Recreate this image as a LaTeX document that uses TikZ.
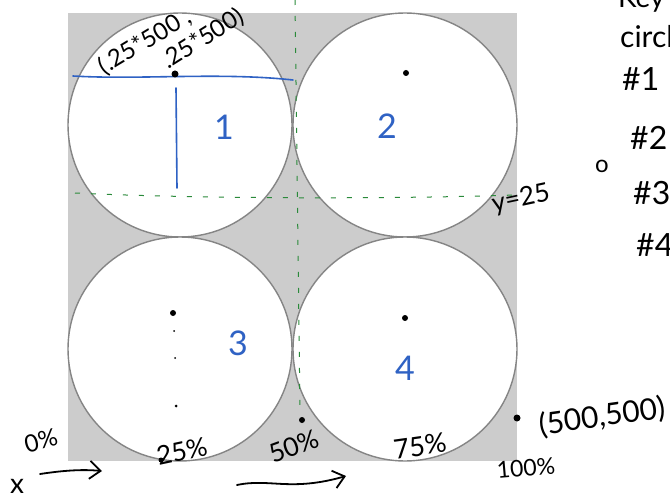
\documentclass[tikz,border=0pt]{standalone}
\usepackage{fontspec}
\setmainfont{Lato}
\usetikzlibrary{arrows.meta}
\definecolor{bg}{HTML}{CCCCCC}
\definecolor{ring}{HTML}{858585}
\definecolor{pen}{HTML}{2F62C4}
\definecolor{guide}{HTML}{2A8A3A}
\tikzset{
  ringnode/.style={circle, draw=ring, line width=1.4pt, fill=white, minimum size=224pt, inner sep=0pt},
  dotnode/.style={circle, fill=black, inner sep=0pt, minimum size=#1},
  hand/.style={inner sep=0pt, font=\fontsize{#1}{#1}\selectfont},
  num/.style={inner sep=0pt, text=pen, font=\fontsize{34}{34}\selectfont},
  bluepen/.style={draw=pen, line width=1.6pt, line cap=round},
  greenguide/.style={draw=guide, line width=1pt, dash pattern=on 5pt off 11pt},
  blackpen/.style={draw=black, line width=1.8pt, line cap=round, -{Straight Barb[length=11pt,width=18pt,line width=1.8pt]}}
}
\begin{document}
\begin{tikzpicture}[x=1pt,y=-1pt]
\useasboundingbox (0,0) rectangle (670,500);
\clip (0,0) rectangle (670,500);
\fill[bg] (68,13) rectangle (517,461);
% circles
\node[ringnode] (c1) at (180,125) {};
\node[ringnode] (c2) at (405,125) {};
\node[ringnode] (c3) at (180,349) {};
\node[ringnode] (c4) at (405,349) {};
% green guides
\coordinate (gv1) at (295,0);
\coordinate (gv2) at (300,412);
\draw[greenguide] (gv1) -- (gv2);
\coordinate (gh1) at (75,193);
\coordinate (gh2) at (515,195);
\draw[greenguide] (gh1) .. controls (200,199) and (400,199) .. (gh2);
% blue strokes
\coordinate (bh1) at (73,76);
\coordinate (bh2) at (293,80);
\draw[bluepen] (bh1) .. controls (140,80) and (220,72) .. (bh2);
\coordinate (bv1) at (176,88);
\coordinate (bv2) at (177,188);
\draw[bluepen] (bv1) -- (bv2);
% dots
\node[dotnode=7pt] (d1) at (175,74) {};
\node[dotnode=6pt] (d2) at (406,73) {};
\node[dotnode=6pt] (d3) at (173,313) {};
\node[dotnode=2pt] (d3a) at (174,331) {};
\node[dotnode=2pt] (d3b) at (175,358) {};
\node[dotnode=3pt] (d3c) at (176,406) {};
\node[dotnode=6pt] (d4) at (405,318) {};
\node[dotnode=6pt] (d5) at (302,420) {};
\node[dotnode=7pt] (d6) at (517,418) {};
\node[dotnode=5pt] (d7) at (161,460) {};
% blue numbers
\node[num] (n1) at (224,127) {1};
\node[num] (n2) at (387,126) {2};
\node[num] (n3) at (238,343) {3};
\node[num] (n4) at (405,368) {4};
% coordinate notes
\node[hand=24, rotate=31] (p1) at (145,42) {(.25*500 ,};
\node[hand=24, rotate=32] (p2) at (203,39) {.25*500)};
\node[hand=26, rotate=12] (y25) at (521,199) {y=25};
% axis labels
\node[hand=24, rotate=15] (l0) at (41,441) {0\%};
\node[hand=28] (lx) at (17,486) {x};
\coordinate (a1s) at (40,474);
\coordinate (a1e) at (102,471);
\draw[blackpen] (a1s) .. controls (60,471) and (80,469) .. (a1e);
\node[hand=26, rotate=12] (l25) at (182,451) {25\%};
\node[hand=26, rotate=20] (l50) at (294,446) {50\%};
\coordinate (a2s) at (237,485);
\coordinate (a2e) at (346,476);
\draw[blackpen] (a2s) .. controls (270,478) and (290,492) .. (a2e);
\node[hand=27, rotate=8] (l75) at (420,446) {75\%};
\node[hand=23, rotate=5] (l100) at (526,468) {100\%};
\node[hand=30, rotate=8] (corner) at (602,417) {(500,500)};
% key (cut at right/top edges)
\node[hand=28, anchor=base west] (key) at (618,8) {Key};
\node[hand=30, anchor=base west] (kc) at (620,48) {circles};
\node[hand=32, anchor=base west] (k1) at (622,91) {\#1};
\node[hand=32, anchor=base west] (k2) at (630,150) {\#2};
\node[hand=32, anchor=base west] (k3) at (633,205) {\#3};
\node[hand=32, anchor=base west] (k4) at (636,256) {\#4};
\node[hand=24] (ko) at (602,166) {o};
\end{tikzpicture}
\end{document}
